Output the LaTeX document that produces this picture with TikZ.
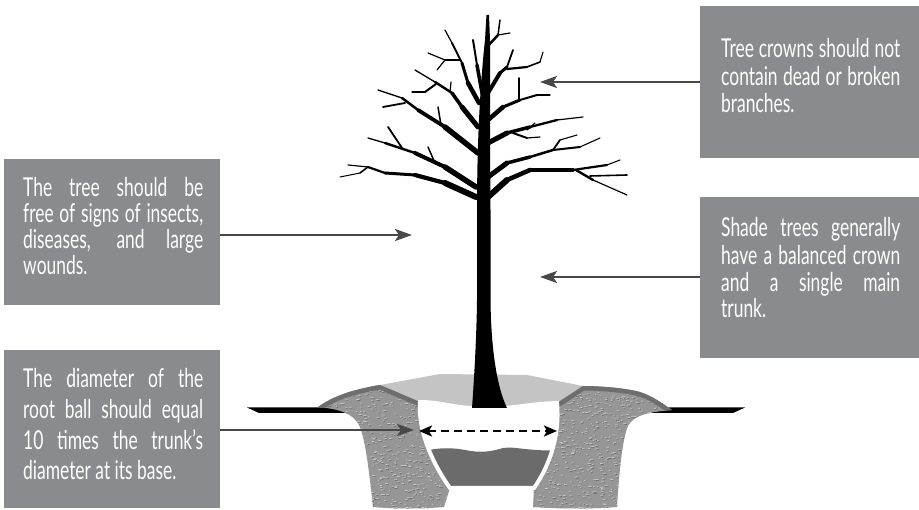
\documentclass[tikz,border=0pt]{standalone}
\usepackage{fontspec}
\setmainfont{Lato}[FakeStretch=0.67]
\usetikzlibrary{arrows.meta}

\definecolor{boxgray}{RGB}{138,139,143}
\definecolor{soilbase}{RGB}{150,150,150}
\definecolor{soilhi}{RGB}{202,202,202}
\definecolor{soillo}{RGB}{104,104,104}
\definecolor{rimgray}{RGB}{110,110,110}
\definecolor{moundgray}{RGB}{196,196,196}
\definecolor{balldark}{RGB}{107,107,107}
\definecolor{pointergray}{RGB}{72,72,74}

\tikzset{
  infobox/.style={fill=boxgray, draw=none, inner sep=0pt, anchor=north west},
  txt/.style={text=white, font=\fontsize{26}{27}\selectfont, inner sep=0pt, anchor=base west},
  pointer/.style={draw=pointergray, line width=2.8pt, -{Stealth[length=17pt,width=12pt,inset=4pt]}},
  measure/.style={draw=black, line width=2.6pt, dash pattern=on 8pt off 5pt,
    {Stealth[length=13pt,width=11pt,inset=3pt]}-{Stealth[length=13pt,width=11pt,inset=3pt]}},
  limb/.style={draw=black, line width=#1, line cap=round, line join=round},
  soilarms/.style={insert path={
    (318,407) .. controls (332,397) and (350,390) .. (380,385)
    -- (420,402)
    .. controls (418,428) and (430,460) .. (450,488)
    -- (444,507)
    .. controls (420,509) and (395,509) .. (373,507)
    .. controls (370,480) and (366,440) .. (359,425)
    .. controls (353,413) and (338,409) .. (318,407) -- cycle
    (557,403) -- (583,386)
    .. controls (600,386) and (625,388) .. (640,392)
    .. controls (652,396) and (662,403) .. (672,410)
    .. controls (652,412) and (634,414) .. (628,426)
    .. controls (622,440) and (619,475) .. (617,507)
    .. controls (595,509) and (555,509) .. (533,507)
    -- (534,488)
    .. controls (550,465) and (560,435) .. (557,403) -- cycle}},
  ballshape/.style={insert path={
    (420,402) .. controls (440,402) and (455,408) .. (475,408)
    -- (500,408) .. controls (515,408) and (530,404) .. (557,403)
    .. controls (560,435) and (550,465) .. (534,488)
    -- (450,488)
    .. controls (430,460) and (418,428) .. (420,402) -- cycle}},
}

\begin{document}
\begin{tikzpicture}[x=1pt,y=-1pt]
\useasboundingbox (0,0) rectangle (919,510);
\fill[white] (0,0) rectangle (919,510);

% ground line on both sides of the planting hole
\fill[black] (247,407.5) -- (345,407.5) -- (345,413) -- (259,413) -- cycle;
\fill[black] (645,407.5) -- (745,407.5) -- (733,413) -- (645,413) -- cycle;

% mulch mound around the trunk
\fill[moundgray] (380,385) -- (440,374) -- (527,375) -- (583,386) -- (557,403)
  .. controls (530,404) and (515,408) .. (500,408) -- (475,408)
  .. controls (455,408) and (440,402) .. (420,402) -- cycle;

% backfill soil with a grainy texture
\begin{scope}
  \clip[soilarms];
  \fill[soilbase] (300,370) rectangle (690,512);
  \pgfmathsetseed{12}
  \foreach \i in {1,...,2000}{
    \pgfmathsetmacro\sx{305+375*rnd}
    \pgfmathsetmacro\sy{378+134*rnd}
    \pgfmathsetmacro\sl{1+2.5*rnd}
    \pgfmathsetmacro\sd{1.4*rnd-0.7}
    \draw[soillo, line width=0.7pt] (\sx+0.7,\sy+0.7) -- ++(\sl,\sd);
    \draw[soilhi, line width=0.7pt] (\sx,\sy) -- ++(\sl,\sd);
  }
  \draw[rimgray, line width=9pt, line join=round]
    (318,407) .. controls (332,397) and (350,390) .. (380,385) -- (420,402);
  \draw[rimgray, line width=9pt, line join=round]
    (557,403) -- (583,386) .. controls (600,386) and (625,388) .. (640,392)
    .. controls (652,396) and (662,403) .. (672,410);
\end{scope}

% root ball
\fill[white, ballshape];
\begin{scope}
  \clip[ballshape];
  \fill[balldark] (425,451) .. controls (440,447) and (455,448) .. (465,450)
    .. controls (480,453) and (490,452) .. (503,448)
    .. controls (515,446) and (530,452) .. (562,450)
    -- (562,495) -- (425,495) -- cycle;
\end{scope}
\draw[white, line width=4pt, ballshape];

% trunk
\fill[black] (472,408) .. controls (474,380) and (476.5,340) .. (477,300)
  -- (477,210) .. controls (477,150) and (479.5,90) .. (485,40) -- (486.5,15)
  -- (489,15) -- (490,40) .. controls (490,90) and (490,150) .. (490.5,210)
  -- (490.5,300) .. controls (491,345) and (496,385) .. (507,408) -- cycle;

% crown branches, each listed as width/start/end segments
\foreach \w/\a/\b in {
  % left side
  3.5/{482,93}/{477,65}, 2/{477,65}/{473,40},
  4.5/{479,103}/{468,83}, 3/{468,83}/{462,63}, 2/{462,63}/{452,43}, 1.2/{452,43}/{445,30},
  2/{460,60}/{445,60}, 1.2/{445,60}/{428,53}, 1.2/{445,60}/{437,70},
  5/{478,127}/{462,107}, 3.5/{462,107}/{452,93}, 2.5/{452,93}/{435,82}, 1.3/{435,82}/{415,70},
  2/{436,84}/{425,92}, 1.2/{425,92}/{412,92}, 1.2/{450,92}/{451,82},
  5.5/{478,153}/{445,127}, 3.8/{445,127}/{418,110}, 2.5/{418,110}/{402,98}, 1.3/{402,98}/{378,90},
  1.8/{405,103}/{383,107}, 1.5/{441,125}/{438,107},
  5.5/{476,187}/{445,167}, 4/{445,167}/{415,153}, 2.5/{415,153}/{385,143}, 1.3/{385,143}/{368,138},
  1.8/{402,148}/{388,127}, 1.5/{435,163}/{428,147},
  6/{476,197}/{445,183}, 4.2/{445,183}/{415,175}, 3/{415,175}/{385,173}, 2.2/{385,173}/{368,167},
  1.6/{368,167}/{360,173}, 1/{360,173}/{340,177}, 1.2/{368,167}/{348,165},
  % right side
  2.5/{487,47}/{498,35}, 1.5/{498,35}/{500,20}, 1.2/{498,35}/{510,33},
  4/{488,93}/{500,73}, 3/{500,73}/{507,67}, 1.8/{507,67}/{513,50},
  2.2/{507,69}/{527,67}, 1.6/{527,67}/{540,62}, 1.1/{540,62}/{543,52},
  4.5/{488,120}/{503,107}, 3/{503,107}/{520,100}, 2/{520,100}/{537,95}, 1.1/{537,95}/{550,95},
  1.5/{519,100}/{519,78},
  5/{488,143}/{507,133}, 3.5/{507,133}/{530,127}, 2.3/{530,127}/{557,120}, 1.2/{557,120}/{583,117},
  2/{513,133}/{527,138}, 1.2/{527,138}/{540,137}, 1.2/{527,130}/{535,123},
  5/{488,177}/{507,163}, 3.5/{507,163}/{530,157}, 2.5/{530,157}/{553,150}, 1.8/{553,150}/{560,140},
  1.1/{560,140}/{577,135}, 2/{553,150}/{580,147}, 1.1/{580,147}/{600,138},
  6/{488,197}/{507,180}, 4.5/{507,180}/{530,170}, 3.5/{530,170}/{573,170}, 2.2/{573,170}/{607,165},
  1.1/{607,165}/{620,160}, 2.4/{576,170}/{593,180}, 1.2/{593,180}/{627,195}, 1.6/{590,176}/{627,175}%
}{
  \draw[limb=\w pt] (\a) -- (\b);
}

% root ball diameter
\coordinate (ballL) at (419,431);
\coordinate (ballR) at (557,431);
\draw[measure] (ballL) -- (ballR);

% information boxes
\node[infobox, minimum width=219pt, minimum height=152pt] (rb1) at (700,6) {};
\node[infobox, minimum width=219pt, minimum height=161pt] (rb2) at (700,197) {};
\node[infobox, minimum width=216pt, minimum height=146pt] (lb1) at (4,159) {};
\node[infobox, minimum width=216pt, minimum height=158pt] (lb2) at (4,350) {};

\node[txt] (rb1a) at (721,58) {\makebox[179pt][s]{Tree crowns should not}};
\node[txt] (rb1b) at (721,86) {\makebox[179pt][s]{contain dead or broken}};
\node[txt] (rb1c) at (721,113) {branches.};

\node[txt] (rb2a) at (721,237) {\makebox[179pt][s]{Shade trees generally}};
\node[txt] (rb2b) at (721,265) {\makebox[179pt][s]{have a balanced crown}};
\node[txt] (rb2c) at (721,292) {\makebox[179pt][s]{and a single main}};
\node[txt] (rb2d) at (721,318) {trunk.};

\node[txt] (lb1a) at (23,197) {\makebox[180pt][s]{The tree should be}};
\node[txt] (lb1b) at (23,223) {\makebox[180pt][s]{free of signs of insects,}};
\node[txt] (lb1c) at (23,249) {\makebox[180pt][s]{diseases, and large}};
\node[txt] (lb1d) at (23,275) {wounds.};

\node[txt] (lb2a) at (23,388) {\makebox[180pt][s]{The diameter of the}};
\node[txt] (lb2b) at (23,419) {\makebox[180pt][s]{root ball should equal}};
\node[txt] (lb2c) at (23,450) {\makebox[180pt][s]{10 times the trunk’s}};
\node[txt] (lb2d) at (23,480) {diameter at its base.};

% pointers from the boxes
\coordinate (crowntip) at (540,82);
\coordinate (trunktip) at (540,277);
\coordinate (bodytip) at (412,235);
\coordinate (balltip) at (414,430);
\draw[pointer] (rb1.west |- crowntip) -- (crowntip);
\draw[pointer] (rb2.west |- trunktip) -- (trunktip);
\draw[pointer] (lb1.east |- bodytip) -- (bodytip);
\draw[pointer] (lb2.east |- balltip) -- (balltip);
\end{tikzpicture}
\end{document}
